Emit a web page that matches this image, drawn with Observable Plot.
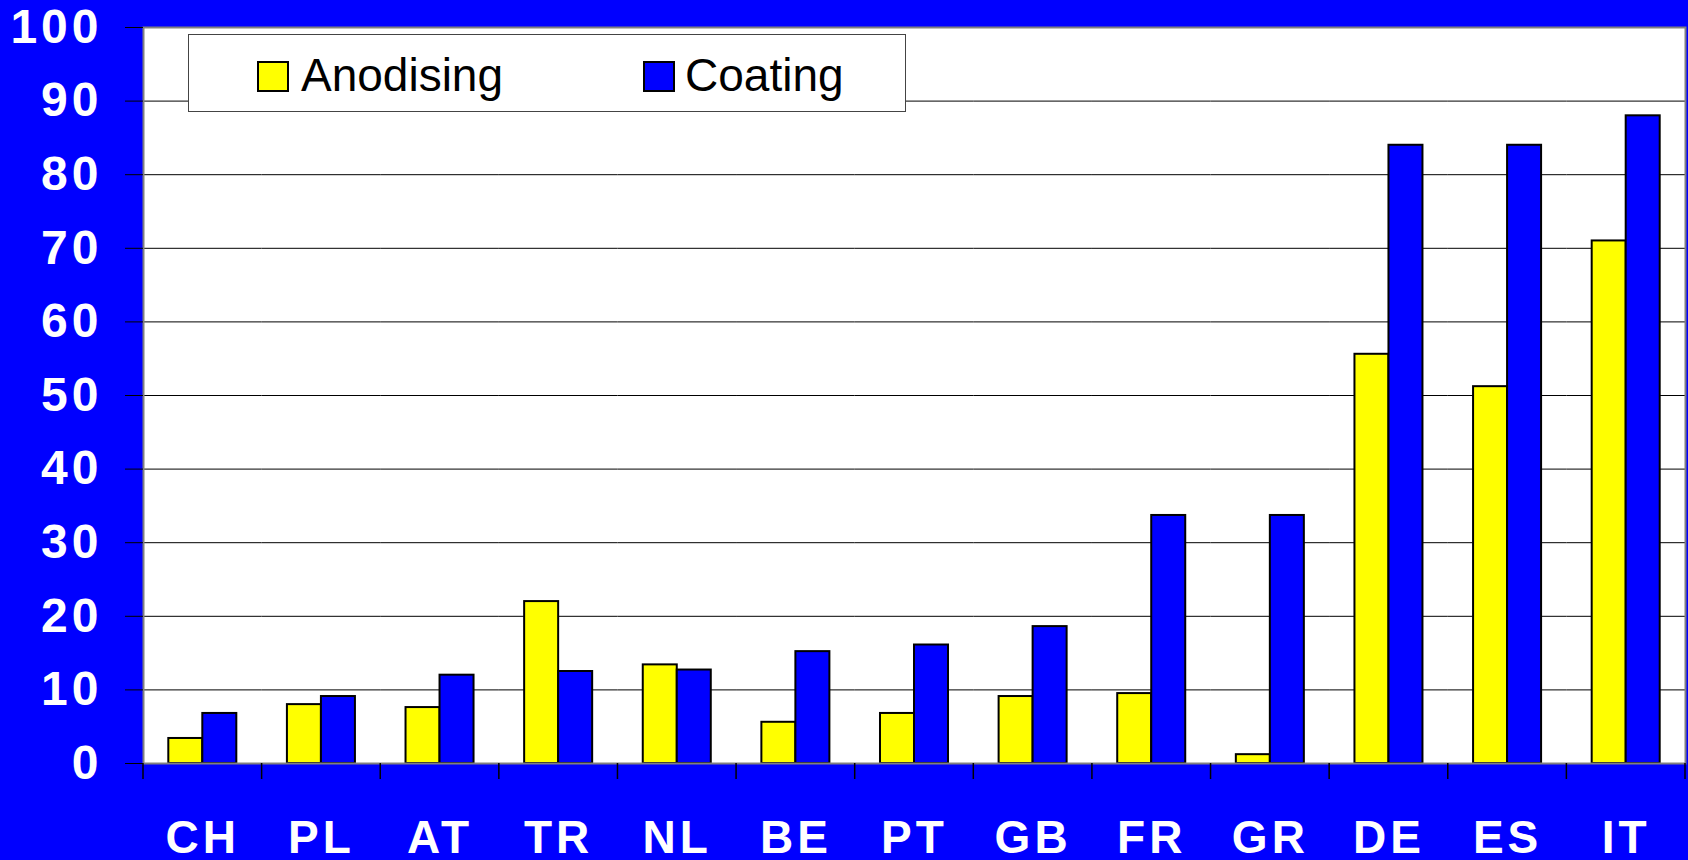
<!DOCTYPE html>
<html>
<head>
<meta charset="utf-8">
<script src="https://cdn.jsdelivr.net/npm/d3@7"></script>
<script src="https://cdn.jsdelivr.net/npm/@observablehq/plot@0.6"></script>
<style>
  html, body { margin: 0; padding: 0; background: #0000FF; width: 1688px; height: 860px; overflow: hidden; }
  #wrap { position: relative; width: 1688px; height: 860px; }
  #wrap svg { display: block; }
  .legend { position: absolute; left: 188px; top: 34px; width: 716px; height: 76px; background: #fff;
            border: 1px solid #444; font-family: "Liberation Sans", Arial, sans-serif; font-size: 46px; color: #000; }
  .legend .sw { position: absolute; top: 26px; width: 28px; height: 27px; border: 2px solid #000; }
  .legend .lb { position: absolute; top: 14px; line-height: 52px; white-space: nowrap; }
  g[aria-label$="tick label"] text { letter-spacing: 4px; }
</style>
</head>
<body>
<div id="wrap"></div>
<script>
const countries = ["CH","PL","AT","TR","NL","BE","PT","GB","FR","GR","DE","ES","IT"];
const series = ["Anodising","Coating"];
const anodising = [3.4, 8.0, 7.6, 22.0, 13.4, 5.6, 6.8, 9.1, 9.5, 1.2, 55.6, 51.2, 71.0];
const coating   = [6.8, 9.1, 12.0, 12.5, 12.7, 15.2, 16.1, 18.6, 33.7, 33.7, 84.0, 84.0, 88.0];
const yTicks = [0, 10, 20, 30, 40, 50, 60, 70, 80, 90, 100];
const seriesColors = ["#FFFF00", "#0000FF"];

const data = countries.flatMap((c, i) => [
  {country: c, series: series[0], value: anodising[i]},
  {country: c, series: series[1], value: coating[i]}
]);

const font = "'Liberation Sans', Arial, Helvetica, sans-serif";

const plot = Plot.plot({
  width: 1688,
  height: 860,
  marginLeft: 143,
  marginTop: 27,
  marginRight: 3,
  marginBottom: 97,
  style: {background: "#0000FF", color: "black", fontFamily: font, overflow: "visible"},
  fx: {domain: countries, padding: 0, round: false, label: null},
  x: {domain: series, paddingInner: 0, paddingOuter: 0.744, round: false, axis: null},
  y: {domain: [0, 100], label: null},
  color: {domain: series, range: seriesColors},
  marks: [
    Plot.frame({fill: "white", facet: "super"}),
    Plot.gridY(yTicks.filter(v => v > 0 && v < 100), {stroke: "#000", strokeOpacity: 1, strokeWidth: 1}),
    Plot.barY(data, {fx: "country", x: "series", y: "value", fill: "series", stroke: "black", strokeWidth: 2}),
    Plot.frame({stroke: "#808080", strokeWidth: 2, facet: "super"}),
    Plot.axisY(yTicks, {tickSize: 18, tickPadding: 23, fontSize: 48, fontWeight: "bold", label: null}),
    Plot.axisFx({anchor: "bottom", tickSize: 0, tickPadding: 57, fontSize: 46, fontWeight: "bold", label: null})
  ]
});

// white tick labels
d3.select(plot).selectAll('g[aria-label="y-axis tick label"], g[aria-label="fx-axis tick label"]')
  .attr("fill", "white");

// category boundary ticks below the zero line, positioned with Plot's own scales
const fx = plot.scale("fx");
const y = plot.scale("y");
const y0 = y.apply(0);
const bounds = countries.map(c => fx.apply(c)).concat([fx.apply(countries[countries.length - 1]) + fx.bandwidth]);
d3.select(plot).append("g")
  .attr("stroke", "black")
  .attr("stroke-width", 1.5)
  .selectAll("line")
  .data(bounds)
  .join("line")
  .attr("x1", d => d).attr("x2", d => d)
  .attr("y1", y0).attr("y2", y0 + 16);

const wrap = document.getElementById("wrap");
wrap.appendChild(plot);

// legend
const legend = d3.select(wrap).append("div").attr("class", "legend");
const swLeft = [68, 454];
const lbLeft = [112, 496];
series.forEach((s, i) => {
  legend.append("div").attr("class", "sw").style("left", swLeft[i] + "px").style("background", seriesColors[i]);
  legend.append("div").attr("class", "lb").style("left", lbLeft[i] + "px").text(s);
});
</script>
</body>
</html>
